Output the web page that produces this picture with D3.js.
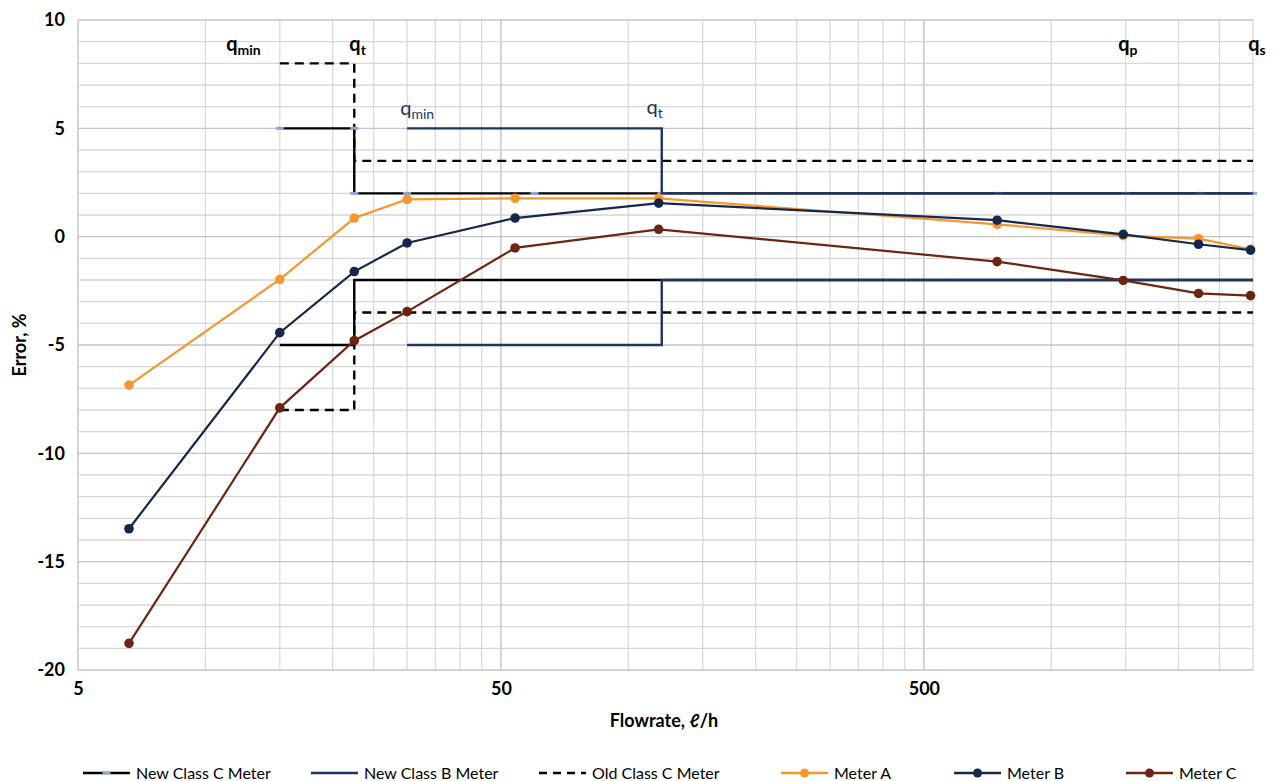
<!DOCTYPE html>
<html>
<head>
<meta charset="utf-8">
<script src="https://cdn.jsdelivr.net/npm/d3@7"></script>
<style>
  body { margin: 0; background: #fff; }
  svg { display: block; font-family: Lato, "Open Sans", sans-serif; }
</style>
</head>
<body>
<svg id="chart" width="1275" height="781"></svg>
<script>
// flowrate points (l/h) for the three meters
var flows = [6.6, 15, 22.5, 30, 54, 118, 745, 1480, 2230, 2960];
var meterA = [-6.85, -1.97, 0.86, 1.72, 1.77, 1.77, 0.57, 0.05, -0.09, -0.58];
var meterB = [-13.48, -4.43, -1.61, -0.29, 0.86, 1.55, 0.76, 0.11, -0.35, -0.62];
var meterC = [-18.77, -7.9, -4.8, -3.46, -0.52, 0.34, -1.15, -2.02, -2.62, -2.72];

// limit curves
var classCFlows = [15, 22.5, 22.5, 30, 60, 120, 750, 1500, 2250, 3000];
var classCUpper = [5, 5, 2, 2, 2, 2, 2, 2, 2, 2];
var classCLower = [-5, -5, -2, -2, -2, -2, -2, -2, -2, -2];
var classBFlows = [30, 120, 120, 3000];
var classBUpper = [5, 5, 2, 2];
var classBLower = [-5, -5, -2, -2];
var oldCFlows = [15, 22.5, 22.5, 3000];
var oldCUpper = [8, 8, 3.5, 3.5];
var oldCLower = [-8, -8, -3.5, -3.5];

var xTicks = [5, 50, 500];
var yTicks = [10, 5, 0, -5, -10, -15, -20];

// q labels: [main, sub, flow, error, colour, bold]
var qLabels = [
  ["q", "min", 11.2, 8.55, "#000", true],
  ["q", "t", 21.9, 8.55, "#000", true],
  ["q", "min", 28.9, 5.6, "#1f3560", false],
  ["q", "t", 110.5, 5.65, "#1f3560", false],
  ["q", "p", 1440, 8.55, "#000", true],
  ["q", "s", 2923, 8.55, "#000", true]
];

var legendItems = [
  {name: "New Class C Meter", color: "#000", dash: null, marker: "tick"},
  {name: "New Class B Meter", color: "#1f3560", dash: null, marker: null},
  {name: "Old Class C Meter", color: "#000", dash: "8,6", marker: null},
  {name: "Meter A", color: "#f7962e", dash: null, marker: "dot"},
  {name: "Meter B", color: "#15274b", dash: null, marker: "dot"},
  {name: "Meter C", color: "#6b2612", dash: null, marker: "dot"}
];
var legendX = [83, 311, 539, 781, 954, 1126];

var svg = d3.select("#chart");
var plotL = 78, plotR = 1253, plotT = 20, plotB = 670;

var x = d3.scaleLog().domain([5, 3000]).range([plotL, plotR]);
var y = d3.scaleLinear().domain([-20, 10]).range([plotB, plotT]);

// grid
var grid = svg.append("g");
var vLines = [];
[5, 50, 500].forEach(function(base) {
  for (var k = 1; k < 10; k++) {
    var v = base * k;
    if (v > 3000) break;
    vLines.push(v);
  }
});
grid.selectAll(".vg").data(vLines).enter().append("line")
  .attr("x1", function(d) { return x(d); })
  .attr("x2", function(d) { return x(d); })
  .attr("y1", plotT).attr("y2", plotB)
  .attr("stroke", function(d) { return (d === 50 || d === 500 || d === 5) ? "#bdbdbd" : "#dadada"; })
  .attr("stroke-width", 1.3);

grid.selectAll(".hg").data(d3.range(-20, 11)).enter().append("line")
  .attr("x1", plotL).attr("x2", plotR)
  .attr("y1", function(d) { return y(d); })
  .attr("y2", function(d) { return y(d); })
  .attr("stroke", function(d) { return d % 5 === 0 ? "#c4c4c4" : "#d6d6d6"; })
  .attr("stroke-width", 1.3);

// axes labels
svg.append("g").attr("transform", "translate(0," + plotB + ")")
  .call(d3.axisBottom(x).tickValues(xTicks).tickFormat(function(d) { return String(d); }).tickSize(0).tickPadding(12))
  .call(function(g) { g.select(".domain").remove(); })
  .selectAll("text").attr("font-size", 18).attr("font-weight", "bold")
  .attr("font-family", "Lato, sans-serif").attr("fill", "#000");

svg.append("g").attr("transform", "translate(" + plotL + ",0)")
  .call(d3.axisLeft(y).tickValues(yTicks).tickFormat(function(d) { return String(d); }).tickSize(0).tickPadding(13))
  .call(function(g) { g.select(".domain").remove(); })
  .selectAll("text").attr("font-size", 18).attr("font-weight", "bold")
  .attr("font-family", "Lato, sans-serif").attr("fill", "#000");

svg.append("text").attr("x", 664).attr("y", 727)
  .attr("text-anchor", "middle").attr("font-size", 18).attr("font-weight", "bold")
  .text("Flowrate, ℓ/h");
svg.append("text").attr("transform", "translate(26," + (y(-5)) + ") rotate(-90)")
  .attr("text-anchor", "middle").attr("font-size", 18).attr("font-weight", "bold")
  .text("Error, %");

// line helper
var line = d3.line()
  .x(function(d) { return x(d[0]); })
  .y(function(d) { return y(d[1]); });

function drawLimit(fl, vals, color, dash) {
  svg.append("path")
    .datum(d3.zip(fl, vals))
    .attr("fill", "none")
    .attr("stroke", color)
    .attr("stroke-width", 2.4)
    .attr("stroke-dasharray", dash)
    .attr("d", line);
}

drawLimit(oldCFlows, oldCUpper, "#000", "9,6");
drawLimit(oldCFlows, oldCLower, "#000", "9,6");
drawLimit(classCFlows, classCUpper, "#000", null);
drawLimit(classCFlows, classCLower, "#000", null);

// small markers on the class C series
svg.selectAll(".cm").data(d3.zip(classCFlows, classCUpper)).enter().append("rect")
  .attr("x", function(d) { return x(d[0]) - 4; })
  .attr("y", function(d) { return y(d[1]) - 1.5; })
  .attr("width", 8).attr("height", 3)
  .attr("fill", "#8fa7d4");

drawLimit(classBFlows, classBUpper, "#1f3560", null);
drawLimit(classBFlows, classBLower, "#1f3560", null);

function drawMeter(vals, color) {
  var pts = d3.zip(flows, vals);
  svg.append("path").datum(pts)
    .attr("fill", "none").attr("stroke", color).attr("stroke-width", 2.2)
    .attr("d", line);
  svg.append("g").selectAll("circle").data(pts).enter().append("circle")
    .attr("cx", function(d) { return x(d[0]); })
    .attr("cy", function(d) { return y(d[1]); })
    .attr("r", 4.8)
    .attr("fill", color);
}
drawMeter(meterA, "#f7962e");
drawMeter(meterB, "#15274b");
drawMeter(meterC, "#6b2612");

// q labels
qLabels.forEach(function(q) {
  var t = svg.append("text")
    .attr("x", x(q[2])).attr("y", y(q[3]))
    .attr("fill", q[4])
    .attr("font-weight", q[5] ? "bold" : "normal");
  t.append("tspan").attr("font-size", 20).text(q[0]);
  t.append("tspan").attr("font-size", 14).attr("dy", 4).text(q[1]);
});

// legend
var lg = svg.append("g");
legendItems.forEach(function(it, i) {
  var lx = legendX[i], ly = 773;
  lg.append("line").attr("x1", lx).attr("x2", lx + 47).attr("y1", ly).attr("y2", ly)
    .attr("stroke", it.color).attr("stroke-width", 2.4)
    .attr("stroke-dasharray", it.dash);
  if (it.marker === "dot") {
    lg.append("circle").attr("cx", lx + 23.5).attr("cy", ly).attr("r", 4.5).attr("fill", it.color);
  } else if (it.marker === "tick") {
    lg.append("rect").attr("x", lx + 19.5).attr("y", ly - 1.5).attr("width", 8).attr("height", 3).attr("fill", "#8fa7d4");
  }
  lg.append("text").attr("x", lx + 53).attr("y", ly + 5.5)
    .attr("font-size", 16).attr("fill", "#000").text(it.name);
});
</script>
</body>
</html>
